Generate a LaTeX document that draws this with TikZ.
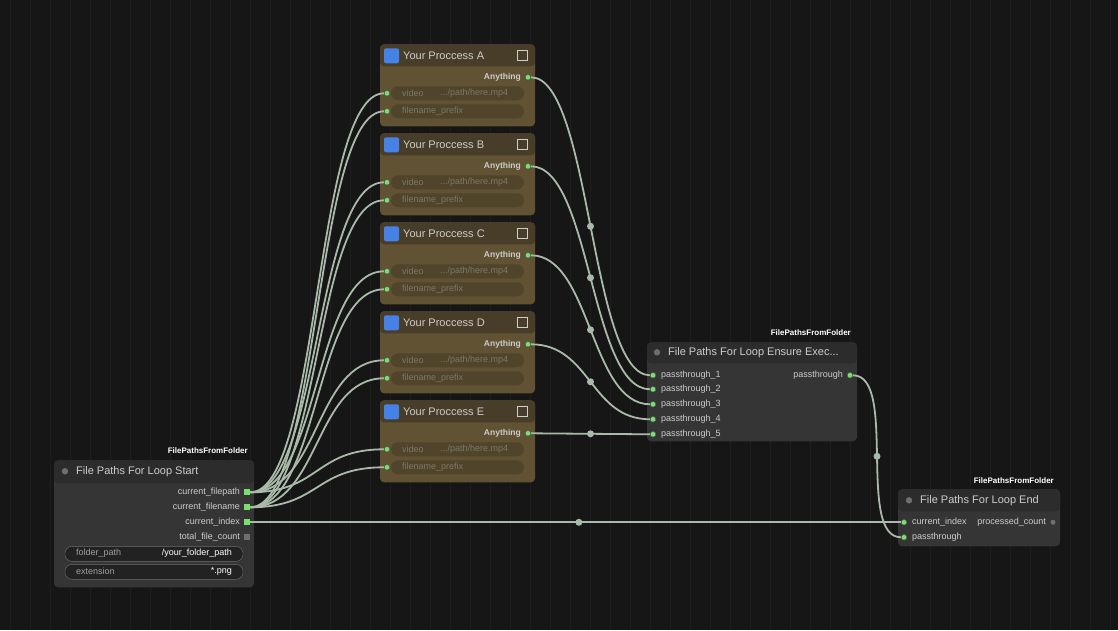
\documentclass[tikz,border=0pt]{standalone}
\usepackage{fontspec}
\setmainfont{Liberation Sans}
\usetikzlibrary{calc}
\definecolor{bg}{RGB}{22,22,22}
\definecolor{grid}{RGB}{30,30,30}
\definecolor{procbody}{RGB}{96,82,50}
\definecolor{prochead}{RGB}{72,61,40}
\definecolor{nodebody}{RGB}{53,53,53}
\definecolor{nodehead}{RGB}{44,44,44}
\definecolor{wire}{RGB}{170,186,170}
\definecolor{port}{RGB}{120,225,110}
\definecolor{widget}{RGB}{34,34,34}
\definecolor{pwidget}{RGB}{80,68,42}
\definecolor{lbl}{RGB}{205,205,205}
\definecolor{dimlbl}{RGB}{125,120,105}
\definecolor{knob}{RGB}{110,110,110}
\definecolor{wlbl}{RGB}{160,160,160}
\definecolor{icon}{RGB}{70,130,230}
\tikzset{
  box/.style={draw=none,rounded corners=4pt,inner sep=0},
  link/.style={wire,line width=1.8pt},
  dot/.style={circle,fill=port,draw=black!70,inner sep=0,minimum size=5.5pt},
  mid/.style={circle,fill=wire,inner sep=0,minimum size=7pt},
  sq/.style={fill=port,inner sep=0,minimum size=6pt},
  txt/.style={text=lbl,font=\fontsize{9}{9}\selectfont,inner sep=0},
  dim/.style={text=dimlbl,font=\fontsize{9}{9}\selectfont,inner sep=0},
  title/.style={text=lbl,font=\fontsize{11}{11}\selectfont,inner sep=0,anchor=west},
  tag/.style={text=white,font=\bfseries\fontsize{8}{8}\selectfont,inner sep=0}
}
\begin{document}
\begin{tikzpicture}[x=1pt,y=-1pt]
\fill[bg] (0,0) rectangle (1118,630);
\foreach \g in {10,30,...,1110} \draw[grid,line width=0.6pt] (\g,0) -- (\g,630);
\useasboundingbox (0,0) rectangle (1118,630);

% start node
\fill[nodebody,rounded corners=4pt] (54,460) rectangle (254,587);
\fill[nodehead,rounded corners=4pt] (54,460) rectangle (254,483);
\fill[knob] (65,471) circle (3.2);
\node[title] at (76,471) {File Paths For Loop Start};
\node[tag,anchor=east] at (248,450) {FilePathsFromFolder};
\foreach \lab/\yy/\nm in {current\_filepath/492/fp,current\_filename/507/fn,current\_index/522/ci} {
  \node[txt,anchor=east] at (240,\yy) {\lab};
  \node[sq] (\nm) at (247,\yy) {};
}
\node[txt,anchor=east] at (240,537) {total\_file\_count};
\node[fill=knob,inner sep=0,minimum size=6pt] (tc) at (247,537) {};
\draw[knob,fill=widget,rounded corners=7pt] (65,546) rectangle (243,561);
\node[txt,text=wlbl,anchor=west] at (76,553) {folder\_path};
\node[txt,anchor=east,text=white] at (232,553) {/your\_folder\_path};
\draw[knob,fill=widget,rounded corners=7pt] (65,564) rectangle (243,579);
\node[txt,text=wlbl,anchor=west] at (76,571) {extension};
\node[txt,anchor=east,text=white] at (232,571) {*.png};

% process nodes
\foreach \k/\t in {A/44,B/133,C/222,D/311,E/400} {
  \fill[procbody,rounded corners=4pt] (380,\t) rectangle (535,\t+82);
  \fill[prochead,rounded corners=4pt] (380,\t) rectangle (535,\t+22);
  \fill[icon,rounded corners=2pt] (384,\t+4) rectangle (399,\t+19);
  \draw[lbl,line width=0.7pt] (517,\t+6) rectangle (527,\t+16);
  \node[title] at (403,\t+11) {Your Proccess \k};
  \node[txt,anchor=east,font=\bfseries\fontsize{8.5}{8.5}\selectfont] at (521,\t+33) {Anything};
  \node[dot] (out\k) at (528,\t+33) {};
  \fill[pwidget,rounded corners=7pt] (391,\t+42) rectangle (524,\t+56);
  \node[dim,anchor=west] at (402,\t+49) {video};
  \node[dim,anchor=west] at (440,\t+49) {.../path/here.mp4};
  \fill[pwidget,rounded corners=7pt] (391,\t+60) rectangle (524,\t+74);
  \node[dim,anchor=west] at (402,\t+67) {filename\_prefix};
  \node[dot] (vid\k) at (387,\t+49) {};
  \node[dot] (pre\k) at (387,\t+67) {};
}

% ensure node
\fill[nodebody,rounded corners=4pt] (647,342) rectangle (857,441);
\fill[nodehead,rounded corners=4pt] (647,342) rectangle (857,363);
\fill[knob] (657,352) circle (3.2);
\node[title] at (668,352) {File Paths For Loop Ensure Exec...};
\node[tag,anchor=east] at (851,332) {FilePathsFromFolder};
\foreach \i/\yy in {1/375,2/389,3/404,4/419,5/434} {
  \node[dot] (pt\i) at (653,\yy) {};
  \node[txt,anchor=west] at (661,\yy) {passthrough\_\i};
}
\node[txt,anchor=east] at (843,375) {passthrough};
\node[dot] (ptout) at (850,375) {};

% end node
\fill[nodebody,rounded corners=4pt] (898,489) rectangle (1060,546);
\fill[nodehead,rounded corners=4pt] (898,489) rectangle (1060,511);
\fill[knob] (909,500) circle (3.2);
\node[title] at (920,500) {File Paths For Loop End};
\node[tag,anchor=east] at (1054,480) {FilePathsFromFolder};
\node[dot] (eci) at (904,522) {};
\node[txt,anchor=west] at (912,522) {current\_index};
\node[dot] (ept) at (904,537) {};
\node[txt,anchor=west] at (912,537) {passthrough};
\node[txt,anchor=east] at (1046,522) {processed\_count};
\node[circle,fill=knob,inner sep=0,minimum size=5pt] (epc) at (1053,522) {};

% links
\foreach \k in {A,B,C,D,E} {
  \draw[link] (fp.east) .. controls +(70,0) and +(-70,0) .. (vid\k.west);
  \draw[link] (fn.east) .. controls +(70,0) and +(-70,0) .. (pre\k.west);
}
\foreach \k/\i in {A/1,B/2,C/3,D/4,E/5}
  \draw[link] (out\k.east) .. controls +(60,0) and +(-60,0) .. node[mid] {} (pt\i.west);
\draw[link] (ci.east) -- node[mid,pos=0.505] {} (eci.west);
\draw[link] (ptout.east) .. controls +(45,0) and +(-45,0) .. node[mid] {} (ept.west);
\foreach \n in {fp,fn,ci} \node[sq] at (\n) {};
\foreach \k in {A,B,C,D,E} {\node[dot] at (vid\k) {}; \node[dot] at (pre\k) {}; \node[dot] at (out\k) {};}
\foreach \i in {1,...,5} \node[dot] at (pt\i) {};
\node[dot] at (ptout) {}; \node[dot] at (eci) {}; \node[dot] at (ept) {};
\end{tikzpicture}
\end{document}
